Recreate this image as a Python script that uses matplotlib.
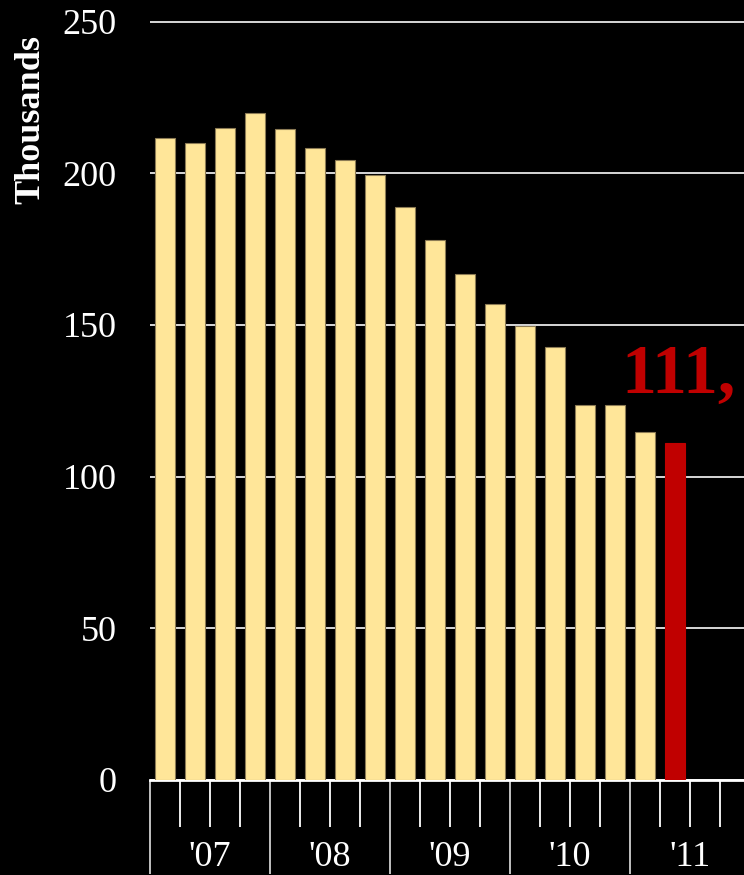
import matplotlib
matplotlib.use("Agg")
import matplotlib.pyplot as plt
from matplotlib.transforms import blended_transform_factory

# Quarterly totals, in thousands
values = [211.5, 210.0, 215.0, 219.7, 214.7, 208.4, 204.5, 199.5, 189.0,
          178.1, 166.9, 157.0, 149.7, 142.8, 123.7, 123.7, 114.8, 111]
years = ["'07", "'08", "'09", "'10", "'11"]
quarters_per_year = 4
y_ticks = [0, 50, 100, 150, 200, 250]
latest_label = f"{int(values[-1])},"

plt.rcParams["font.family"] = ["Liberation Serif", "DejaVu Serif"]

W, H = 744, 875
px_per_unit = (780 - 21.5) / 250
y_top = 252
fig = plt.figure(figsize=(W / 100, H / 100), dpi=100, facecolor="black")
ax = fig.add_axes([150 / W, 95 / H, 600 / W, px_per_unit * y_top / H])
ax.set_facecolor("black")

n_slots = quarters_per_year * len(years)
xs = list(range(len(values)))
colors = ["#FFE699"] * (len(values) - 1) + ["#C00000"]
edges = ["#8C7B55"] * (len(values) - 1) + ["#C00000"]
ax.bar(xs, values, width=0.66, color=colors, edgecolor=edges, linewidth=0.8, zorder=3)

ax.set_xlim(-0.5, n_slots - 0.5)
ax.set_ylim(0, y_top)
ax.set_yticks(y_ticks)
ax.set_yticklabels([str(t) for t in y_ticks])
ax.grid(axis="y", color="#E8E8E8", linewidth=1.3, zorder=0)
ax.set_axisbelow(True)

for s in ["left", "right", "top"]:
    ax.spines[s].set_visible(False)
ax.spines["bottom"].set_color("white")
ax.spines["bottom"].set_linewidth(2)

ax.tick_params(axis="y", length=0, pad=24, labelsize=26, labelcolor="white")

# Year boundaries as long major ticks, quarter boundaries as short minor ticks
boundaries = [i - 0.5 for i in range(n_slots + 1)]
major = [b for k, b in enumerate(boundaries) if k % quarters_per_year == 0]
minor = [b for k, b in enumerate(boundaries) if k % quarters_per_year != 0]
ax.set_xticks(major)
ax.set_xticks(minor, minor=True)
ax.set_xticklabels([])
ax.tick_params(axis="x", which="major", length=68, width=1.3, color="#D0D0D0", direction="out")
ax.tick_params(axis="x", which="minor", length=34, width=1.3, color="white", direction="out")

trans = blended_transform_factory(ax.transData, ax.transAxes)
axes_h_px = px_per_unit * y_top
for k, yr in enumerate(years):
    center = k * quarters_per_year + (quarters_per_year - 1) / 2
    ax.text(center, -78 / axes_h_px, yr, transform=trans, ha="center", va="center",
            fontsize=26, color="white", clip_on=False)

fig.text(31 / W, 1 - 119 / H, "Thousands", rotation=90, ha="center", va="center",
         fontsize=26, fontweight="bold", color="white")

fig.text(621 / W, 1 - 393 / H, latest_label, ha="left", va="baseline",
         fontsize=50, fontweight="bold", color="#C00000")

fig.savefig("out.png", dpi=100, facecolor="black")
